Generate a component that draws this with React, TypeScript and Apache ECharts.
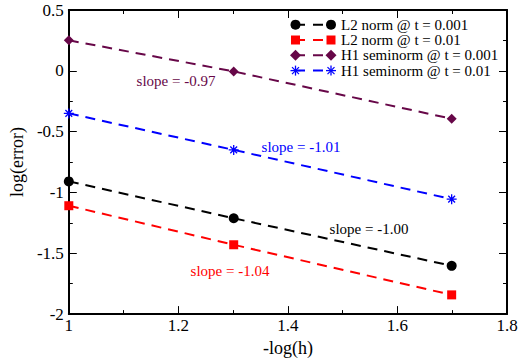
import React, { useEffect, useRef } from "react";
import * as echarts from "echarts";

// -log(h) for h = 1/10, 1/20, 1/50
const logH = [1, 1.30103, 1.69897];

// log(error) per series
const l2Fine = [-0.909, -1.212, -1.603];
const l2Coarse = [-1.109, -1.43, -1.842];
const h1Fine = [0.251, -0.005, -0.394];
const h1Coarse = [-0.35, -0.65, -1.055];

const seriesNames = [
  "L2 norm @ t = 0.001",
  "L2 norm @ t = 0.01",
  "H1 seminorm @ t = 0.001",
  "H1 seminorm @ t = 0.01",
];
const seriesColors = ["#000000", "#ff0000", "#670748", "#0000ff"];
const slopeTexts = ["slope = -1.00", "slope = -1.04", "slope = -0.97", "slope = -1.01"];

const xTickMin = 1;
const xTickMax = 1.8;
const xTickStep = 0.2;
const yTickMin = -2;
const yTickMax = 0.5;
const yTickStep = 0.5;

const FONT = "Liberation Serif";
const ASTERISK =
  "path://M5 0L5 10M0 5L10 5M1.6 1.6L8.4 8.4M1.6 8.4L8.4 1.6";

const values = [l2Fine, l2Coarse, h1Fine, h1Coarse];
const symbols = ["circle", "rect", "diamond", ASTERISK];
const symbolSizes = [10, 9, 10, 10];

// slope label placement (pixel centres)
const slopePos = [
  [369, 229],
  [230, 271],
  [176, 81],
  [301, 147],
];

function legendMarker(kind: number, x: number, y: number, color: string): any {
  if (kind === 0) return { type: "circle", shape: { cx: x, cy: y, r: 5 }, style: { fill: color } };
  if (kind === 1) return { type: "rect", shape: { x: x - 4.5, y: y - 4.5, width: 9, height: 9 }, style: { fill: color } };
  if (kind === 2)
    return {
      type: "polygon",
      shape: { points: [[x, y - 5.5], [x + 5.5, y], [x, y + 5.5], [x - 5.5, y]] },
      style: { fill: color },
    };
  const r = 5;
  const d = 3.5;
  const segs = [
    [x, y - r, x, y + r],
    [x - r, y, x + r, y],
    [x - d, y - d, x + d, y + d],
    [x - d, y + d, x + d, y - d],
  ];
  return {
    type: "group",
    children: segs.map((s) => ({
      type: "line",
      shape: { x1: s[0], y1: s[1], x2: s[2], y2: s[3] },
      style: { stroke: color, lineWidth: 1.3 },
    })),
  };
}

export default function App() {
  const ref = useRef<HTMLDivElement>(null);

  useEffect(() => {
    if (!ref.current) return;
    const chart = echarts.init(ref.current, undefined, { renderer: "svg" });

    const axisCommon = {
      type: "value" as const,
      axisLine: { show: true, onZero: false, lineStyle: { color: "#000", width: 2 } },
      axisTick: { show: true, inside: true, length: 8, lineStyle: { color: "#000", width: 1 } },
      minorTick: { show: true, splitNumber: 2, length: 4, lineStyle: { color: "#000", width: 1 } },
      splitLine: { show: false },
      minorSplitLine: { show: false },
    };

    const xBase = { ...axisCommon, min: xTickMin, max: xTickMax, interval: xTickStep };
    const yBase = { ...axisCommon, min: yTickMin, max: yTickMax, interval: yTickStep };

    const graphics: any[] = [];
    seriesNames.forEach((name, i) => {
      const y = 24.7 + i * 15.3;
      const color = seriesColors[i];
      graphics.push({
        type: "line",
        shape: { x1: 295, y1: y, x2: 331, y2: y },
        style: { stroke: color, lineWidth: 2, lineDash: [10, 8] },
      });
      graphics.push(legendMarker(i, 295.5, y, color));
      graphics.push(legendMarker(i, 331, y, color));
      graphics.push({
        type: "text",
        x: 341,
        y: y,
        style: { text: name, fill: "#000", font: `15px '${FONT}'`, verticalAlign: "middle", align: "left" },
      });
    });
    slopeTexts.forEach((t, i) => {
      graphics.push({
        type: "text",
        x: slopePos[i][0],
        y: slopePos[i][1],
        style: {
          text: t,
          fill: seriesColors[i],
          font: `15px '${FONT}'`,
          align: "center",
          verticalAlign: "middle",
        },
      });
    });

    chart.setOption({
      animation: false,
      backgroundColor: "#fff",
      textStyle: { fontFamily: FONT },
      grid: { left: 67, right: 16, top: 10, bottom: 43, containLabel: false },
      xAxis: [
        {
          ...xBase,
          position: "bottom",
          name: "-log(h)",
          nameLocation: "middle",
          nameGap: 19,
          nameTextStyle: { fontFamily: FONT, fontSize: 18, color: "#000" },
          axisLabel: { fontFamily: FONT, fontSize: 17, color: "#000", margin: 3 },
        },
        { ...xBase, position: "top", axisLabel: { show: false } },
      ],
      yAxis: [
        {
          ...yBase,
          position: "left",
          name: "log(error)",
          nameLocation: "middle",
          nameGap: 37,
          nameTextStyle: { fontFamily: FONT, fontSize: 18, color: "#000" },
          axisLabel: { fontFamily: FONT, fontSize: 17, color: "#000", margin: 5 },
        },
        { ...yBase, position: "right", axisLabel: { show: false } },
      ],
      series: seriesNames.map((name, i) => ({
        name,
        type: "line",
        xAxisIndex: 0,
        yAxisIndex: 0,
        data: logH.map((x, k) => [x, values[i][k]]),
        symbol: symbols[i],
        symbolSize: symbolSizes[i],
        showSymbol: true,
        lineStyle: { color: seriesColors[i], width: 2, type: [10, 7] },
        itemStyle:
          i === 3
            ? { color: seriesColors[i], borderColor: seriesColors[i], borderWidth: 1.3 }
            : { color: seriesColors[i], borderWidth: 0 },
      })),
      graphic: graphics,
    });

    return () => chart.dispose();
  }, []);

  return (
    <div
      ref={ref}
      style={{ position: "fixed", left: 0, top: 0, width: 523, height: 362, background: "#fff" }}
    />
  );
}
